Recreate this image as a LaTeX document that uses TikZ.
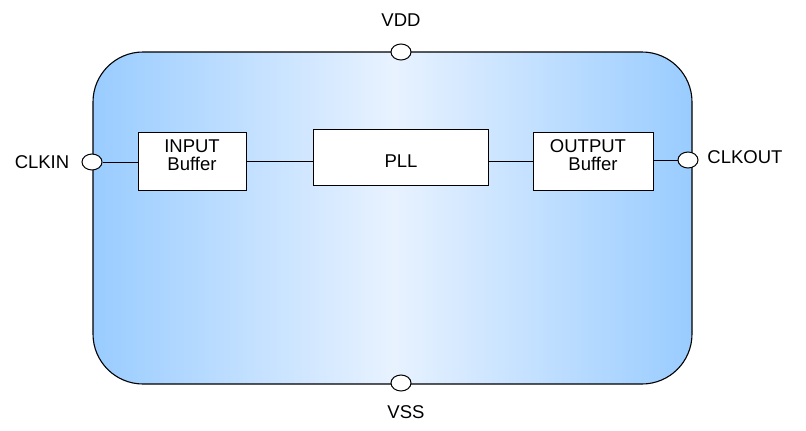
\documentclass[tikz,border=0pt]{standalone}
\usepackage{fontspec}
\setmainfont{Liberation Sans}
\usetikzlibrary{shapes.geometric}
\definecolor{edgeblue}{RGB}{153,204,255}
\definecolor{midblue}{RGB}{232,242,255}
\tikzset{
  port/.style={draw=black, fill=white, ellipse, minimum width=20pt, minimum height=16pt, inner sep=0pt, line width=1pt},
  block/.style={draw=black, fill=white, rectangle, inner sep=0pt, line width=0.8pt},
  lbl/.style={font=\fontsize{18.5}{22}\selectfont, inner sep=0pt, anchor=center},
  wire/.style={draw=black, line width=0.8pt}
}
\begin{document}
\begin{tikzpicture}[x=1pt,y=-1pt]
\useasboundingbox (0,0) rectangle (806,431);
\node[draw=black, line width=1.1pt, rounded corners=50pt, minimum width=599pt, minimum height=332pt,
      left color=edgeblue, right color=edgeblue, middle color=midblue, inner sep=0pt] (chip) at (392.5,218) {};
\node[block, minimum width=108pt, minimum height=58pt] (inbuf) at (192,161) {};
\node[block, minimum width=175pt, minimum height=56pt] (pll) at (400.5,157) {};
\node[block, minimum width=120pt, minimum height=58pt] (outbuf) at (593,161) {};
\node[lbl] (inbufa) at (192,146) {INPUT};
\node[lbl] (inbufb) at (192,164) {Buffer};
\node[lbl] (plltxt) at (401,161) {PLL};
\node[lbl] (outbufa) at (588,146) {OUTPUT};
\node[lbl] (outbufb) at (593,164) {Buffer};
\node[port] (vdd) at (401,52) {};
\node[port] (vss) at (401,383) {};
\node[port] (clkin) at (92,162) {};
\node[port] (clkout) at (688,160) {};
\draw[wire] (clkin.east) -- (clkin.east -| inbuf.west);
\draw[wire] (inbuf.east) -- (inbuf.east -| pll.west);
\draw[wire] (pll.east |- outbuf.east) -- (outbuf.west);
\draw[wire] (outbuf.east |- clkout.west) -- (clkout.west);
\node[lbl] (vddtxt) at (401,20) {VDD};
\node[lbl] (vsstxt) at (406,412) {VSS};
\node[lbl] (clkintxt) at (42,162) {CLKIN};
\node[lbl] (clkouttxt) at (745,157) {CLKOUT};
\end{tikzpicture}
\end{document}
